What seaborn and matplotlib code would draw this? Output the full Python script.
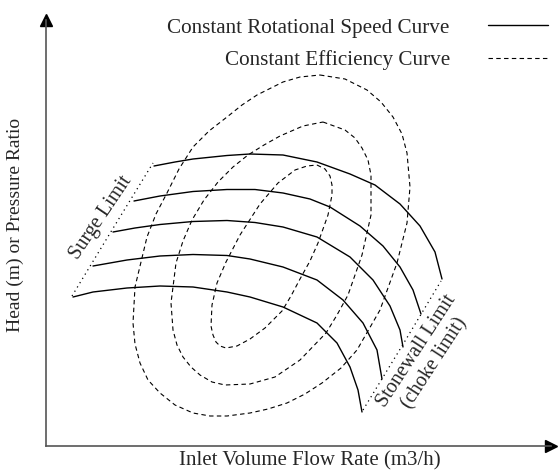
import numpy as np
import pandas as pd
import seaborn as sns
import matplotlib.pyplot as plt

# arbitrary units (origin at the axes corner)
speed_label = 'Constant Rotational Speed Curve'
eff_label = 'Constant Efficiency Curve'

# constant rotational speed curves, top to bottom
speed_x = [
    [108, 129, 147, 181, 204, 237, 271, 304, 329, 354, 374, 389, 396],
    [88, 114, 147, 181, 209, 237, 264, 284, 314, 337, 354, 367, 375],
    [67, 89, 114, 147, 181, 209, 237, 271, 304, 327, 344, 354, 357],
    [47, 81, 114, 147, 181, 204, 237, 271, 297, 317, 331, 336],
    [27, 47, 81, 114, 147, 181, 204, 237, 271, 291, 304, 312, 316],
]
speed_y = [
    [280, 284, 287, 290.5, 292, 291, 284, 272, 261, 242, 220, 194, 167],
    [245, 250, 254.5, 256.5, 256.5, 253, 247, 239, 220, 200, 179, 156, 132],
    [214, 218, 221.5, 224.5, 225.5, 223.5, 219, 209, 189, 166, 140, 116, 99],
    [180, 186, 190, 191.5, 190.5, 187, 179, 166, 146, 123, 96, 67],
    [149, 154, 158, 160, 159, 154, 149, 139, 123, 103, 79, 56, 34],
]

# constant efficiency loops, inner to outer
eff_x = [
    [271, 279, 284, 286, 286, 282, 272, 264, 254, 245, 236, 219, 204, 191, 180,
     174, 170, 167, 165, 166, 171, 180, 194, 214, 232, 249, 261, 271],
    [277, 299, 309, 316, 322, 325, 325, 316, 302, 291, 280, 254, 229, 204, 179,
     166, 154, 145, 137, 131, 127, 125, 130, 137, 146, 158, 172, 187, 202, 218,
     234, 257, 277],
    [274, 299, 321, 335, 347, 356, 361, 364, 361, 351, 334, 311, 295, 276, 259,
     241, 222, 204, 181, 164, 147, 129, 114, 102, 94, 89, 87, 89, 101, 110, 121,
     133, 147, 163, 181, 196, 211, 237, 254, 274],
]
eff_y = [
    [281, 277, 270, 261, 251, 231, 203, 185, 167, 150, 135, 118, 107, 100, 98,
     100, 104, 111, 120, 141, 163, 184, 211, 242, 263, 276, 280, 281],
    [324, 316, 308, 298, 286, 271, 231, 191, 151, 131, 113, 86, 69, 62, 61,
     64, 71, 79, 89, 101, 116, 143, 183, 205, 226, 246, 264, 279, 291, 301,
     310, 320, 324],
    [371, 367, 356, 344, 329, 312, 293, 259, 223, 183, 136, 96, 78, 63, 52,
     43, 37, 33, 30, 30, 33, 41, 53, 66, 83, 102, 123, 159, 209, 232, 253,
     277, 299, 315, 329, 341, 351, 364, 369, 371],
]

surge_x = [26, 66, 107]
surge_y = [150, 216, 283]
stonewall_x = [317, 356, 395]
stonewall_y = [36, 100, 165]


def main():
    sns.set_style('white')
    plt.rcParams['font.family'] = ['Liberation Serif', 'DejaVu Serif']

    rows = []
    for i, (xs, ys) in enumerate(zip(speed_x, speed_y)):
        for j, (x, y) in enumerate(zip(xs, ys)):
            rows.append(dict(flow=x, head=y, curve=f's{i}', kind=speed_label, order=j))
    for i, (xs, ys) in enumerate(zip(eff_x, eff_y)):
        for j, (x, y) in enumerate(zip(xs, ys)):
            rows.append(dict(flow=x, head=y, curve=f'e{i}', kind=eff_label, order=j))
    df = pd.DataFrame(rows)

    limits = pd.DataFrame(dict(
        flow=surge_x + stonewall_x,
        head=surge_y + stonewall_y,
        line=['surge'] * len(surge_x) + ['stonewall'] * len(stonewall_x)))

    fig = plt.figure(figsize=(5.58, 4.75), dpi=100)
    ax = fig.add_axes([46 / 558, 29 / 475, 505 / 558, 426 / 475])

    sns.lineplot(data=df, x='flow', y='head', units='curve', estimator=None,
                 sort=False, size='kind', sizes={speed_label: 1.0, eff_label: 0.8},
                 style='kind', dashes={speed_label: '', eff_label: (4, 3)},
                 color='black', ax=ax)
    sns.lineplot(data=limits, x='flow', y='head', units='line', estimator=None,
                 sort=False, color='black', linewidth=0.9, linestyle=(0, (1, 3)),
                 legend=False, ax=ax)

    handles, labels = ax.get_legend_handles_labels()
    keep = [(h, l) for h, l in zip(handles, labels) if l in (speed_label, eff_label)]
    ax.get_legend().remove()
    fig.legend([k[0] for k in keep], [k[1] for k in keep], loc='upper right',
               bbox_to_anchor=(548 / 558, 1 - 18 / 475), markerfirst=False,
               frameon=False, fontsize=15.2, handlelength=2.85, handletextpad=1.8,
               labelspacing=0.6, borderpad=0, borderaxespad=0)

    ax.set_xlim(0, 505)
    ax.set_ylim(0, 426)
    ax.set_xticks([])
    ax.set_yticks([])
    for s in ['top', 'right']:
        ax.spines[s].set_visible(False)
    for s in ['left', 'bottom']:
        ax.spines[s].set_color('#555555')
        ax.spines[s].set_linewidth(1.2)
    ax.plot(1, 0, '>', color='black', ms=9, transform=ax.get_yaxis_transform(), clip_on=False)
    ax.plot(0, 1, '^', color='black', ms=9, transform=ax.get_xaxis_transform(), clip_on=False)

    ax.set_xlabel('Inlet Volume Flow Rate (m3/h)', fontsize=15, va='center')
    ax.xaxis.set_label_coords(0.523, -0.035)
    ax.set_ylabel('Head (m) or Pressure Ratio', fontsize=14, va='center')
    ax.yaxis.set_label_coords(-0.061, 0.52)

    ax.text(55, 228, 'Surge Limit', fontsize=14.5, rotation=56,
            rotation_mode='anchor', ha='center', va='center')
    ax.text(380, 89, 'Stonewall Limit\n(choke limit)', fontsize=14.5, rotation=57,
            rotation_mode='anchor', ha='center', va='center', multialignment='center',
            linespacing=1.15)

    plt.savefig('out.png', dpi=100)


if __name__ == '__main__':
    main()
